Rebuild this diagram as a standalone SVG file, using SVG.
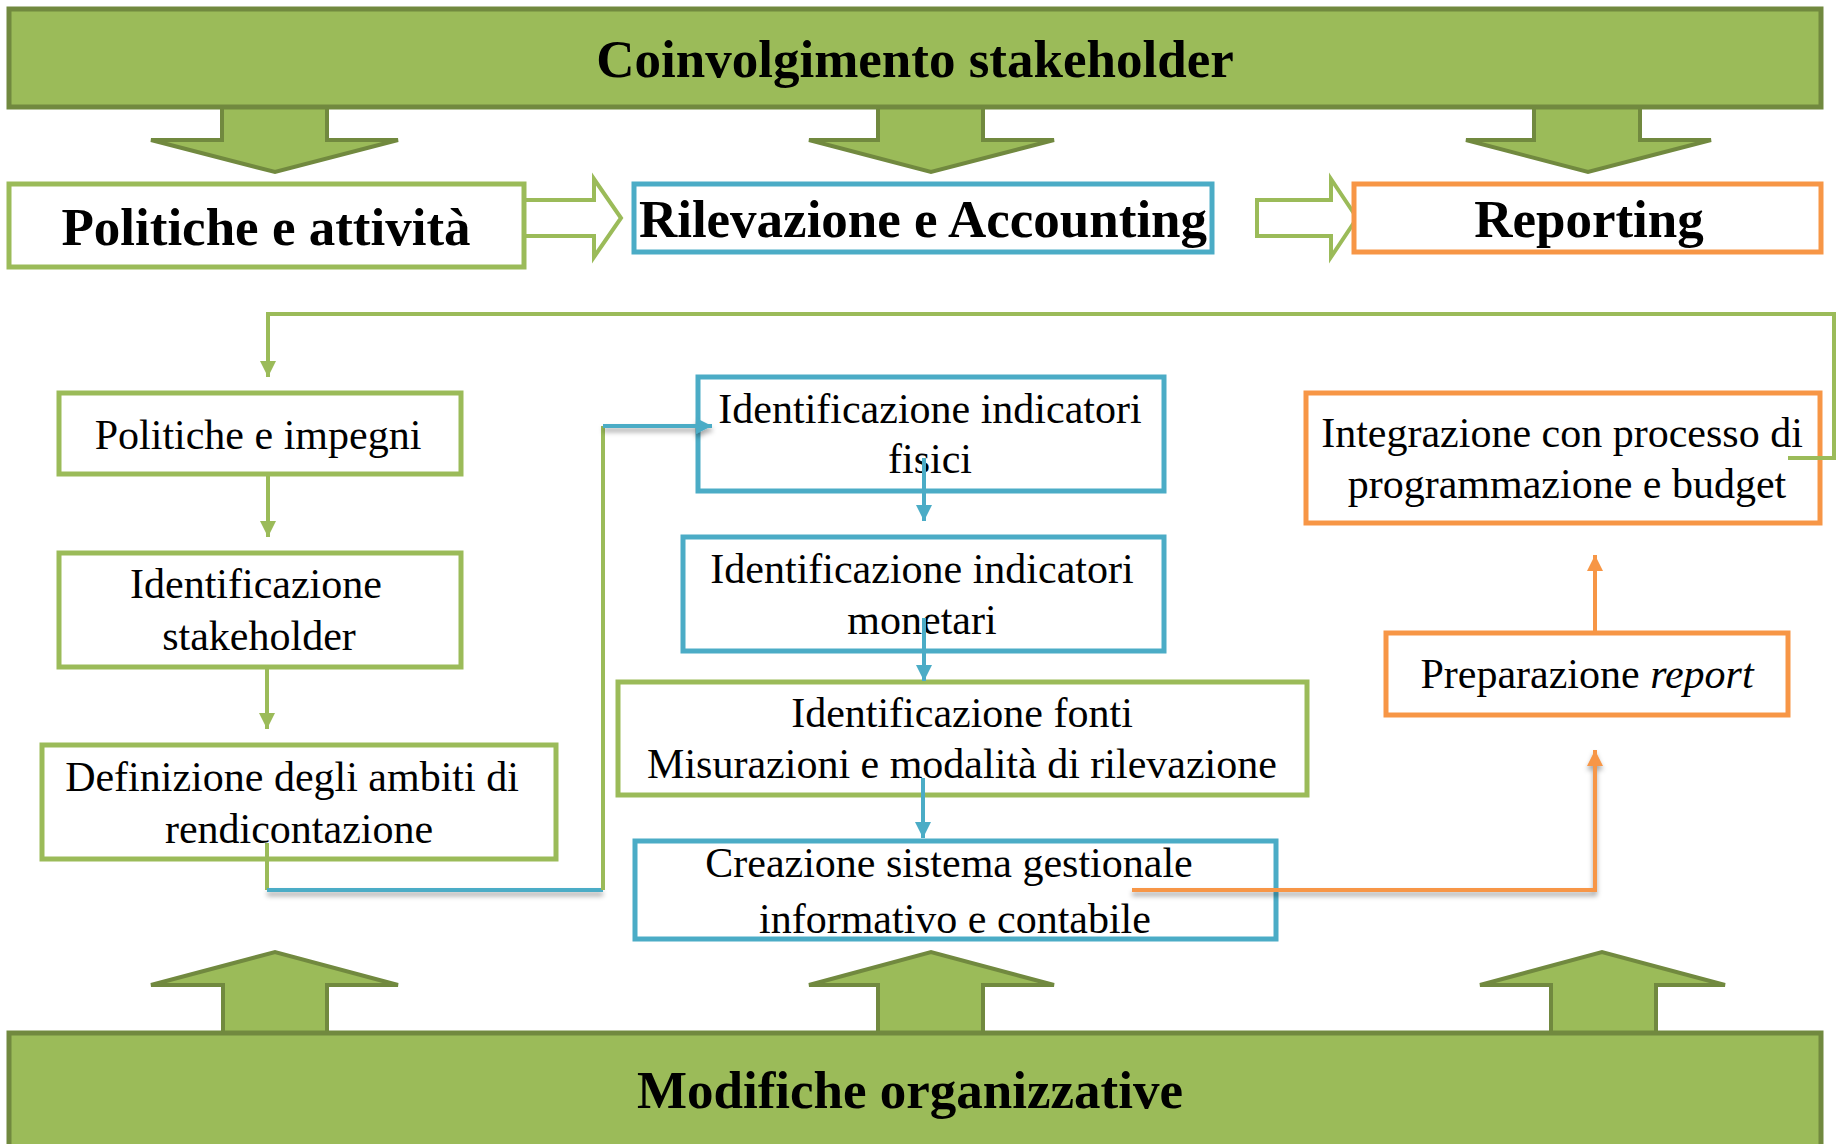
<svg xmlns="http://www.w3.org/2000/svg" width="1839" height="1144" viewBox="0 0 1839 1144">
<style>
.banner{fill:#9BBB59;stroke:#71893F;stroke-width:5}
.block{fill:#9BBB59;stroke:#71893F;stroke-width:4;stroke-linejoin:miter}
.hollow{fill:#FFFFFF;stroke:#9BBB59;stroke-width:4}
.bg{fill:#FFFFFF;stroke:#9BBB59;stroke-width:5}
.bb{fill:#FFFFFF;stroke:#4BACC6;stroke-width:5}
.bo{fill:#FFFFFF;stroke:#F79646;stroke-width:5}
.h{font-family:"Liberation Serif","Times New Roman",serif;font-weight:bold;font-size:53px;fill:#000;text-anchor:middle}
.t{font-family:"Liberation Serif","Times New Roman",serif;font-size:42px;fill:#000;text-anchor:middle}
.cg{fill:none;stroke:#9BBB59;stroke-width:4}
.cb{fill:none;stroke:#4BACC6;stroke-width:4}
.co{fill:none;stroke:#F79646;stroke-width:4}
</style>
<defs>
<marker id="ag" markerUnits="userSpaceOnUse" markerWidth="16" markerHeight="16" viewBox="0 0 16 16" refX="16" refY="8" orient="auto"><path d="M0,0 L16,8 L0,16 z" fill="#9BBB59"/></marker>
<marker id="ab" markerUnits="userSpaceOnUse" markerWidth="16" markerHeight="16" viewBox="0 0 16 16" refX="16" refY="8" orient="auto"><path d="M0,0 L16,8 L0,16 z" fill="#4BACC6"/></marker>
<marker id="ao" markerUnits="userSpaceOnUse" markerWidth="16" markerHeight="16" viewBox="0 0 16 16" refX="16" refY="8" orient="auto"><path d="M0,0 L16,8 L0,16 z" fill="#F79646"/></marker>
<filter id="sh" filterUnits="userSpaceOnUse" x="0" y="0" width="1839" height="1144"><feDropShadow dx="0" dy="4" stdDeviation="2.5" flood-color="#000" flood-opacity="0.35"/></filter>
</defs>

<g id="block-arrows">
<polygon class="block" points="222,107 327,107 327,140 398,140 275,172 151,140 222,140"/>
<polygon class="block" points="878,107 983,107 983,140 1054,140 931,172 809,140 878,140"/>
<polygon class="block" points="1534,107 1640,107 1640,140 1711,140 1588,172 1466,140 1534,140"/>
<polygon class="block" points="223,1033 223,985 151,985 275,952 398,985 327,985 327,1033"/>
<polygon class="block" points="878,1033 878,985 809,985 931,952 1054,985 983,985 983,1033"/>
<polygon class="block" points="1551,1033 1551,985 1480,985 1602,952 1725,985 1656,985 1656,1033"/>
<polygon class="hollow" points="524,200 594,200 594,179 621,218 594,257 594,236 524,236"/>
<polygon class="hollow" points="1257,200 1331,200 1331,179 1357,218 1331,257 1331,236 1257,236"/>
</g>

<g id="coinvolgimento">
<rect class="banner" x="9" y="9" width="1812" height="98"/>
<text class="h" x="915" y="77">Coinvolgimento stakeholder</text>
</g>
<g id="modifiche">
<rect class="banner" x="9" y="1033" width="1812" height="125"/>
<text class="h" x="910" y="1108">Modifiche organizzative</text>
</g>

<g id="politiche-attivita">
<rect class="bg" x="9" y="184" width="515" height="83"/>
<text class="h" x="266" y="245">Politiche e attività</text>
</g>
<g id="rilevazione">
<rect class="bb" x="634" y="184" width="578" height="68"/>
<text class="h" x="923" y="237">Rilevazione e Accounting</text>
</g>
<g id="reporting">
<rect class="bo" x="1354" y="184" width="467" height="68"/>
<text class="h" x="1589" y="237">Reporting</text>
</g>

<g id="politiche-impegni">
<rect class="bg" x="59" y="393" width="402" height="81"/>
<text class="t" x="258" y="449">Politiche e impegni</text>
</g>
<g id="identificazione-stakeholder">
<rect class="bg" x="59" y="553" width="402" height="114"/>
<text class="t" x="256" y="598">Identificazione</text>
<text class="t" x="259" y="650">stakeholder</text>
</g>
<g id="definizione">
<rect class="bg" x="42" y="745" width="514" height="114"/>
<text class="t" x="292" y="791">Definizione degli ambiti di</text>
<text class="t" x="299" y="843">rendicontazione</text>
</g>

<g id="indicatori-fisici">
<rect class="bb" x="698" y="377" width="466" height="114"/>
<text class="t" x="930" y="423">Identificazione indicatori</text>
<text class="t" x="930" y="473">fisici</text>
</g>
<g id="indicatori-monetari">
<rect class="bb" x="683" y="537" width="481" height="114"/>
<text class="t" x="922" y="583">Identificazione indicatori</text>
<text class="t" x="922" y="634">monetari</text>
</g>
<g id="fonti">
<rect class="bg" x="618" y="682" width="689" height="113"/>
<text class="t" x="962" y="727">Identificazione fonti</text>
<text class="t" x="962" y="778">Misurazioni e modalità di rilevazione</text>
</g>
<g id="creazione">
<rect class="bb" x="635" y="841" width="641" height="98"/>
<text class="t" x="949" y="877">Creazione sistema gestionale</text>
<text class="t" x="955" y="933">informativo e contabile</text>
</g>

<g id="integrazione">
<rect class="bo" x="1306" y="393" width="514" height="130"/>
<text class="t" x="1562" y="447">Integrazione con processo di</text>
<text class="t" x="1567" y="498">programmazione e budget</text>
</g>
<g id="preparazione">
<rect class="bo" x="1386" y="633" width="402" height="82"/>
<text class="t" x="1587" y="688">Preparazione <tspan font-style="italic">report</tspan></text>
</g>

<g id="connectors">
<path class="cg" d="M1788,458 H1834 V314 H268 V377" marker-end="url(#ag)"/>
<path class="cg" d="M268,474 V537" marker-end="url(#ag)"/>
<path class="cg" d="M267,667 V729" marker-end="url(#ag)"/>
<path class="cg" d="M267,843 V890"/>
<path class="cb" d="M267,890 H603" filter="url(#sh)"/>
<path class="cg" d="M603,890 V426"/>
<path class="cb" d="M603,426 H712" marker-end="url(#ab)" filter="url(#sh)"/>
<path class="cb" d="M924,458 V521" marker-end="url(#ab)"/>
<path class="cb" d="M924,618 V681" marker-end="url(#ab)"/>
<path class="cb" d="M923,778 V838" marker-end="url(#ab)"/>
<path class="co" d="M1132,890 H1595 V750" marker-end="url(#ao)" filter="url(#sh)"/>
<path class="co" d="M1595,633 V555" marker-end="url(#ao)"/>
</g>
</svg>
